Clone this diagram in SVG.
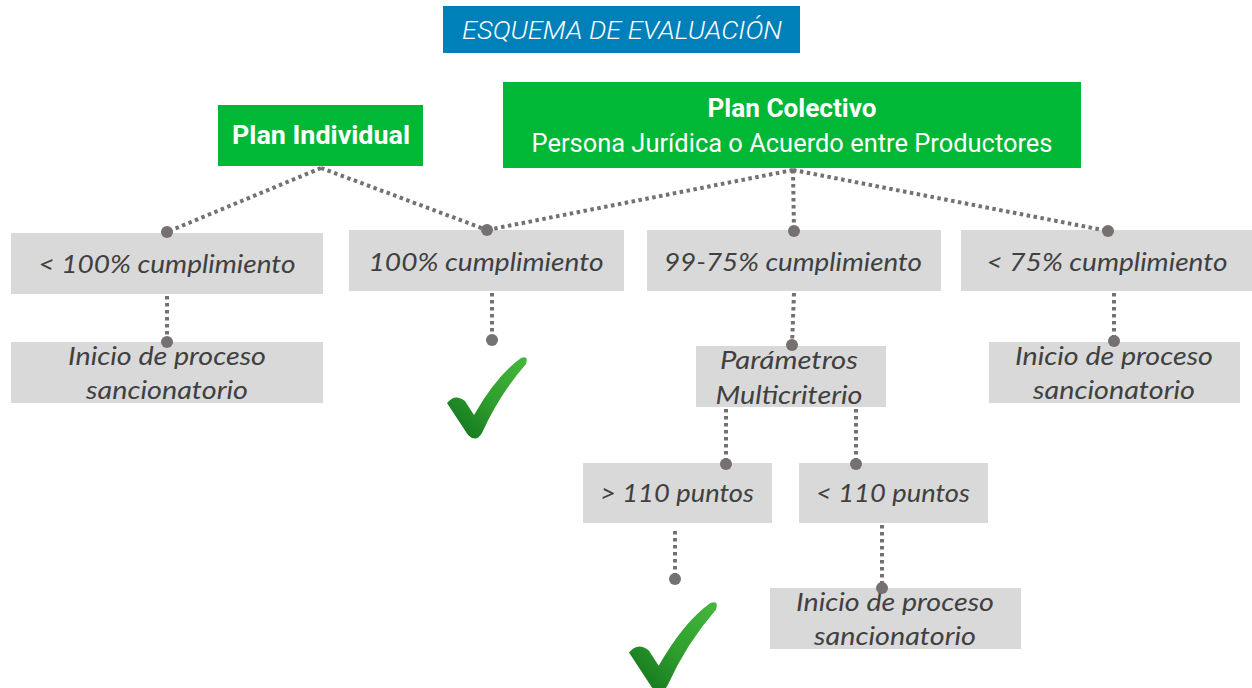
<svg xmlns="http://www.w3.org/2000/svg" width="1252" height="688" viewBox="0 0 1252 688">
<style>
.gbox{fill:#D9D9D9}
.green{fill:#00B836}
.gt{font-family:Lato,"Open Sans",sans-serif;font-style:italic;font-weight:400;font-size:26px;fill:#404040;text-anchor:middle}
.wt{font-family:Roboto,"Liberation Sans",sans-serif;fill:#FFFFFF;text-anchor:middle}
.con{fill:none;stroke:#767171;stroke-width:4;stroke-dasharray:3.5 3.5}
.dot{fill:#767171}
</style>
<defs>
<linearGradient id="chk" x1="0" y1="1" x2="1" y2="0">
<stop offset="0" stop-color="#0E6E1A"/>
<stop offset="0.5" stop-color="#2E9E2E"/>
<stop offset="1" stop-color="#46B83C"/>
</linearGradient>
<path id="check" d="M 0,46 Q 8,36 18,44 L 27,58 Q 50,18 74,1 Q 82,-2 79,7 Q 52,38 35,76 Q 29,86 21,78 Z"/>
</defs>
<g id="title">
<rect x="443" y="6" width="357" height="47" fill="#0080B8"/>
<text class="wt" x="622" y="39" font-size="26" font-style="italic" font-weight="300" textLength="320" lengthAdjust="spacingAndGlyphs">ESQUEMA DE EVALUACIÓN</text>
</g>
<g id="plan-individual">
<rect class="green" x="218" y="105" width="205" height="61"/>
<text class="wt" x="321" y="144" font-size="26" font-weight="bold" textLength="178" lengthAdjust="spacingAndGlyphs">Plan Individual</text>
</g>
<g id="plan-colectivo">
<rect class="green" x="503" y="82" width="578" height="86"/>
<text class="wt" x="792" y="117" font-size="26" font-weight="bold" textLength="169" lengthAdjust="spacingAndGlyphs">Plan Colectivo</text>
<text class="wt" x="792" y="152" font-size="25" textLength="521" lengthAdjust="spacingAndGlyphs">Persona Jurídica o Acuerdo entre Productores</text>
</g>
<g id="lt100">
<rect class="gbox" x="11" y="233" width="312" height="61"/>
<text class="gt" x="167" y="273" textLength="257" lengthAdjust="spacingAndGlyphs">&lt; 100% cumplimiento</text>
</g>
<g id="eq100">
<rect class="gbox" x="349" y="230" width="275" height="61"/>
<text class="gt" x="486" y="271" textLength="235" lengthAdjust="spacingAndGlyphs">100% cumplimiento</text>
</g>
<g id="r99-75">
<rect class="gbox" x="647" y="230" width="294" height="61"/>
<text class="gt" x="793" y="271" textLength="258" lengthAdjust="spacingAndGlyphs">99-75% cumplimiento</text>
</g>
<g id="lt75">
<rect class="gbox" x="961" y="230" width="291" height="61"/>
<text class="gt" x="1107" y="271" textLength="241" lengthAdjust="spacingAndGlyphs">&lt; 75% cumplimiento</text>
</g>
<g id="inicio-left">
<rect class="gbox" x="11" y="342" width="312" height="61"/>
<text class="gt" x="167" y="365" textLength="198" lengthAdjust="spacingAndGlyphs">Inicio de proceso</text>
<text class="gt" x="167" y="399" textLength="162" lengthAdjust="spacingAndGlyphs">sancionatorio</text>
</g>
<g id="parametros">
<rect class="gbox" x="696" y="346" width="190" height="61"/>
<text class="gt" x="789" y="369" textLength="138" lengthAdjust="spacingAndGlyphs">Parámetros</text>
<text class="gt" x="789" y="404" textLength="147" lengthAdjust="spacingAndGlyphs">Multicriterio</text>
</g>
<g id="inicio-right">
<rect class="gbox" x="989" y="342" width="251" height="61"/>
<text class="gt" x="1114" y="365" textLength="198" lengthAdjust="spacingAndGlyphs">Inicio de proceso</text>
<text class="gt" x="1114" y="399" textLength="162" lengthAdjust="spacingAndGlyphs">sancionatorio</text>
</g>
<g id="gt110">
<rect class="gbox" x="583" y="463" width="189" height="60"/>
<text class="gt" x="677" y="502" textLength="154" lengthAdjust="spacingAndGlyphs">&gt; 110 puntos</text>
</g>
<g id="lt110">
<rect class="gbox" x="799" y="463" width="189" height="60"/>
<text class="gt" x="893" y="502" textLength="154" lengthAdjust="spacingAndGlyphs">&lt; 110 puntos</text>
</g>
<g id="inicio-bottom">
<rect class="gbox" x="770" y="588" width="251" height="61"/>
<text class="gt" x="895" y="611" textLength="198" lengthAdjust="spacingAndGlyphs">Inicio de proceso</text>
<text class="gt" x="895" y="645" textLength="162" lengthAdjust="spacingAndGlyphs">sancionatorio</text>
</g>
<g id="connectors">
<path class="con" d="M321,168 L167,232 M321,168 L487,230 M793,170 L487,230 M793,170 L794,231 M793,170 L1108,231"/>
<path class="con" d="M167,296 L167,342 M492,293 L492,340 M794,293 L792,345 M1114,293 L1114,341"/>
<path class="con" d="M726,409 L726,464 M856,409 L856,464 M675,531 L675,579 M882,525 L882,588"/>
<circle class="dot" cx="167" cy="232" r="6"/>
<circle class="dot" cx="487" cy="230" r="6"/>
<circle class="dot" cx="794" cy="231" r="6"/>
<circle class="dot" cx="1108" cy="231" r="6"/>
<circle class="dot" cx="167" cy="342" r="6"/>
<circle class="dot" cx="492" cy="340" r="6"/>
<circle class="dot" cx="792" cy="345" r="6"/>
<circle class="dot" cx="1114" cy="341" r="6"/>
<circle class="dot" cx="726" cy="464" r="6"/>
<circle class="dot" cx="856" cy="464" r="6"/>
<circle class="dot" cx="675" cy="579" r="6"/>
<circle class="dot" cx="882" cy="588" r="6"/>
</g>
<g id="check1">
<use href="#check" transform="translate(447,357)" fill="url(#chk)"/>
</g>
<g id="check2">
<use href="#check" transform="translate(629,602) scale(1.1)" fill="url(#chk)"/>
</g>
</svg>
